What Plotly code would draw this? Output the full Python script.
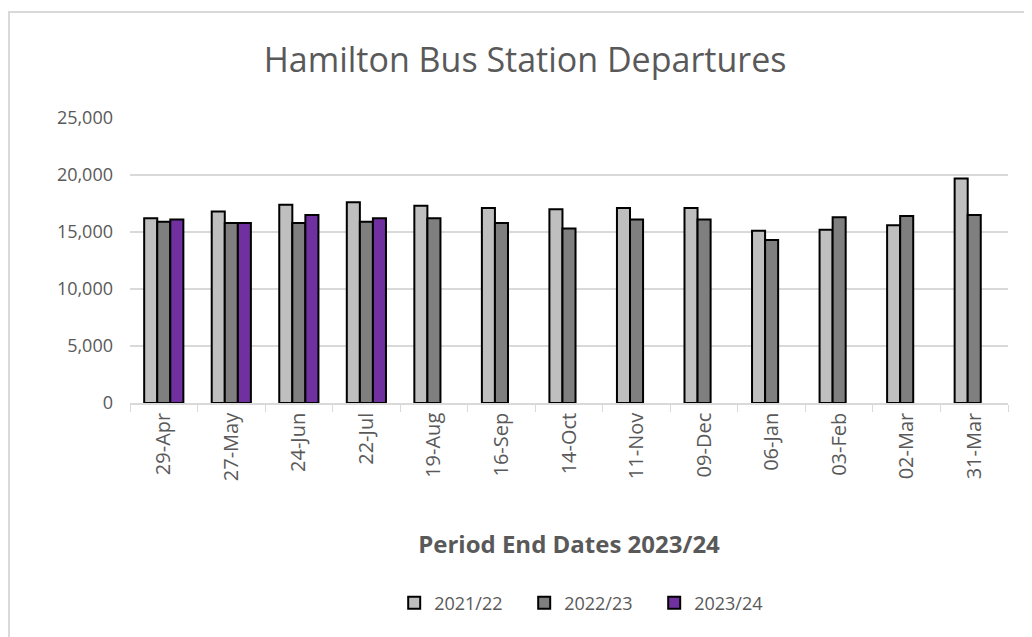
import plotly.graph_objects as go

# Period end dates and departures per period
periods = ["29-Apr", "27-May", "24-Jun", "22-Jul", "19-Aug", "16-Sep", "14-Oct",
           "11-Nov", "09-Dec", "06-Jan", "03-Feb", "02-Mar", "31-Mar"]
dep_2021_22 = [16200, 16800, 17400, 17600, 17300, 17100, 17000,
               17100, 17100, 15100, 15200, 15600, 19700]
dep_2022_23 = [15900, 15800, 15800, 15900, 16200, 15800, 15300,
               16100, 16100, 14300, 16300, 16400, 16500]
dep_2023_24 = [16100, 15800, 16500, 16200]

series = [
    ("2021/22", dep_2021_22, "#BFBFBF"),
    ("2022/23", dep_2022_23, "#7F7F7F"),
    ("2023/24", dep_2023_24, "#7030A0"),
]

FONT = "Open Sans"
GREY = "#595959"

fig = go.Figure()
for name, vals, colour in series:
    fig.add_trace(go.Bar(
        x=periods[:len(vals)], y=vals, name=name,
        marker=dict(color=colour, line=dict(color="black", width=2)),
    ))

# page body has an 8px margin, so the figure is sized/placed to compensate
fig.update_layout(
    width=1024, height=629,
    margin=dict(l=122, r=24, t=110, b=234),
    paper_bgcolor="white", plot_bgcolor="white",
    barmode="group", bargap=0.42, bargroupgap=0,
    font=dict(family=FONT, color=GREY, size=16),
    title=dict(text="Hamilton Bus Station Departures", x=0.505, xanchor="center",
               y=0.917, yanchor="middle", font=dict(size=34, color=GREY, family=FONT)),
    legend=dict(orientation="h", x=0.523, xanchor="center", y=-0.702, yanchor="middle",
                font=dict(size=18, color=GREY), itemwidth=30, traceorder="normal",
                entrywidth=85, entrywidthmode="pixels"),
    xaxis=dict(
        type="category", categoryorder="array", categoryarray=periods,
        tickson="boundaries", ticks="outside", ticklen=7, tickcolor="#D9D9D9",
        showline=True, linecolor="#D9D9D9", linewidth=1.5,
        tickangle=-90, tickfont=dict(size=20, color=GREY),
        title=dict(text="<b>Period End Dates 2023/24</b>", standoff=56,
                   font=dict(size=24, color=GREY)),
        range=[-0.5, 12.5],
    ),
    yaxis=dict(
        range=[0, 25000], dtick=5000, tickformat=",d",
        showgrid=True, gridcolor="#D9D9D9", gridwidth=1.5,
        zeroline=False, showline=False, ticks="",
        tickfont=dict(size=18, color=GREY), ticklabelstandoff=16,
    ),
    shapes=[dict(type="rect", xref="paper", yref="paper",
                 x0=(1 - 122) / 878, x1=1.2, y0=-1.2, y1=(395 - 4) / 285,
                 line=dict(color="#D9D9D9", width=2), layer="below")],
)

fig.write_html("out.html")
